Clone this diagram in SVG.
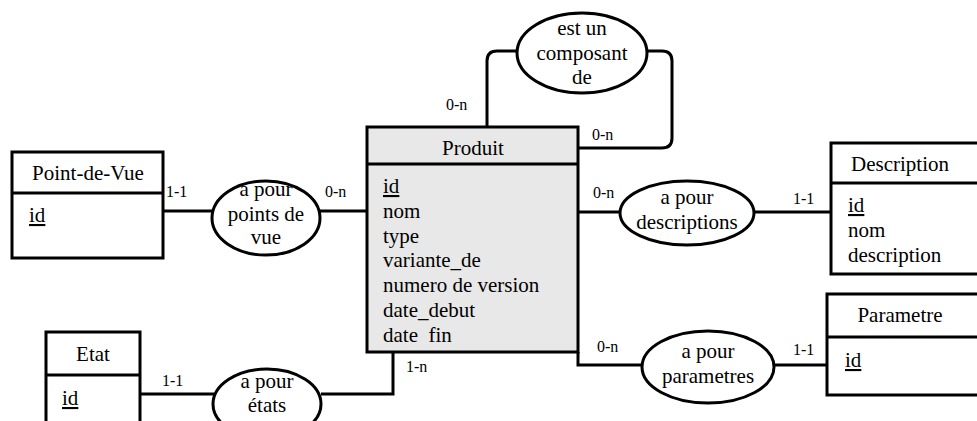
<svg xmlns="http://www.w3.org/2000/svg" width="977" height="421" viewBox="0 0 977 421" font-family="'Liberation Serif', 'DejaVu Serif', serif">
<style>
text{font-family:'Liberation Serif','DejaVu Serif',serif;fill:#000}
.t{font-size:21px}
.c{font-size:16px}
.m{text-anchor:middle}
.u{text-decoration:underline}
.box{fill:#fff;stroke:#000;stroke-width:3}
.pbox{fill:#e8e8e8;stroke:#000;stroke-width:3}
.ell{fill:#fff;stroke:#000;stroke-width:3}
.ln{fill:none;stroke:#000;stroke-width:3}
</style>
<rect width="977" height="421" fill="#fff"/>
<g id="connectors">
<path class="ln" d="M487,126 V61 Q487,51 497,51 H518"/>
<path class="ln" d="M646,51 H662 Q672,51 672,61 V138 Q672,148 662,148 H579"/>
<path class="ln" d="M163,211 H213"/>
<path class="ln" d="M319,211 H366"/>
<path class="ln" d="M579,212 H621"/>
<path class="ln" d="M753,212 H831"/>
<path class="ln" d="M578,352 V365 H643"/>
<path class="ln" d="M774,365 H827"/>
<path class="ln" d="M140,394 H214"/>
<path class="ln" d="M321,394 H393 V352"/>
<text class="c" x="446" y="110">0-n</text>
<text class="c" x="592" y="140">0-n</text>
<text class="c" x="166" y="197">1-1</text>
<text class="c" x="325" y="197">0-n</text>
<text class="c" x="593" y="198">0-n</text>
<text class="c" x="793" y="204">1-1</text>
<text class="c" x="597" y="352">0-n</text>
<text class="c" x="793" y="355">1-1</text>
<text class="c" x="162" y="386">1-1</text>
<text class="c" x="406" y="372">1-n</text>
</g>
<g id="produit">
<rect class="pbox" x="367" y="127" width="211" height="225"/>
<line class="ln" x1="367" y1="164" x2="578" y2="164"/>
<text class="t m" x="473" y="155">Produit</text>
<text class="t u" x="383" y="193">id</text>
<text class="t" x="383" y="218">nom</text>
<text class="t" x="383" y="243">type</text>
<text class="t" x="383" y="267">variante_de</text>
<text class="t" x="383" y="292">numero de version</text>
<text class="t" x="383" y="317">date_debut</text>
<text class="t" x="383" y="342">date&#160; fin</text>
</g>
<g id="est-un-composant-de">
<ellipse class="ell" cx="582" cy="53" rx="65" ry="40"/>
<text class="t m" x="582" y="35">est un</text>
<text class="t m" x="582" y="60">composant</text>
<text class="t m" x="582" y="84">de</text>
</g>
<g id="point-de-vue">
<rect class="box" x="12" y="152" width="151" height="106"/>
<line class="ln" x1="12" y1="193" x2="163" y2="193"/>
<text class="t m" x="88" y="180">Point-de-Vue</text>
<text class="t u" x="29" y="222">id</text>
</g>
<g id="a-pour-points-de-vue">
<ellipse class="ell" cx="266" cy="218" rx="54" ry="37"/>
<text class="t m" x="266" y="196">a pour</text>
<text class="t m" x="266" y="221">points de</text>
<text class="t m" x="266" y="244">vue</text>
</g>
<g id="description">
<rect class="box" x="831" y="143" width="160" height="131"/>
<line class="ln" x1="831" y1="183" x2="991" y2="183"/>
<text class="t m" x="900" y="171">Description</text>
<text class="t u" x="848" y="212">id</text>
<text class="t" x="848" y="237">nom</text>
<text class="t" x="848" y="262">description</text>
</g>
<g id="a-pour-descriptions">
<ellipse class="ell" cx="687" cy="213" rx="67" ry="32"/>
<text class="t m" x="687" y="204">a pour</text>
<text class="t m" x="687" y="229">descriptions</text>
</g>
<g id="parametre">
<rect class="box" x="827" y="294" width="164" height="101"/>
<line class="ln" x1="827" y1="337" x2="991" y2="337"/>
<text class="t m" x="900" y="322">Parametre</text>
<text class="t u" x="845" y="367">id</text>
</g>
<g id="a-pour-parametres">
<ellipse class="ell" cx="708" cy="367" rx="66" ry="36"/>
<text class="t m" x="708" y="358">a pour</text>
<text class="t m" x="708" y="383">parametres</text>
</g>
<g id="etat">
<rect class="box" x="46" y="332" width="94" height="110"/>
<line class="ln" x1="46" y1="375" x2="140" y2="375"/>
<text class="t m" x="93" y="361">Etat</text>
<text class="t u" x="62" y="405">id</text>
</g>
<g id="a-pour-etats">
<ellipse class="ell" cx="267" cy="404" rx="54" ry="35"/>
<text class="t m" x="267" y="388">a pour</text>
<text class="t m" x="267" y="412">états</text>
</g>
</svg>
